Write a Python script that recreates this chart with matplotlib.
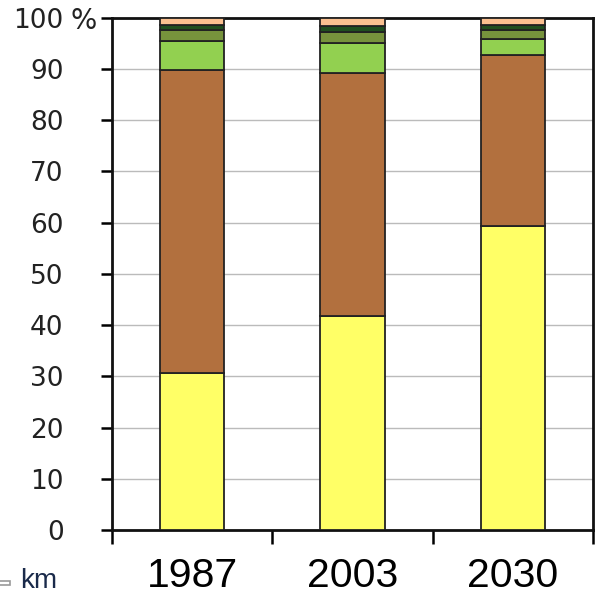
import matplotlib
matplotlib.use("Agg")
import matplotlib.pyplot as plt
import matplotlib.transforms as mtransforms
import numpy as np
from matplotlib.patches import Rectangle

# Share of each category per year (percent, stacked bottom to top)
years = ["1987", "2003", "2030"]
yellow = [30.6, 41.8, 59.4]
brown = [59.2, 47.5, 33.4]
light_green = [5.6, 5.8, 3.0]
olive = [2.3, 2.2, 1.9]
dark_green = [0.9, 1.0, 0.9]
peach = [1.4, 1.7, 1.4]

series = [yellow, brown, light_green, olive, dark_green, peach]
colors = ["#FFFF66", "#B2703E", "#92D050", "#77933C", "#1F4F1F", "#FAC090"]

y_ticks = list(range(0, 101, 10))
y_labels = [str(t) for t in y_ticks]

fig = plt.figure(figsize=(6.0, 5.93), dpi=100)
ax = fig.add_axes([0.187, 0.106, 0.801, 0.864])

x = np.arange(len(years))
bottom = np.zeros(len(years))
for vals, col in zip(series, colors):
    ax.bar(x, vals, width=0.4, bottom=bottom, color=col,
           edgecolor="#222222", linewidth=1.3, zorder=3)
    bottom += np.array(vals)

ax.set_xlim(-0.5, len(years) - 0.5)
ax.set_ylim(0, 100)

ax.set_yticks(y_ticks)
ax.set_yticklabels(y_labels, fontsize=19, color="#222222", family="DejaVu Sans")
ax.yaxis.grid(True, color="#BBBBBB", linewidth=1.0, zorder=0)
ax.tick_params(axis="y", direction="out", length=8, width=1.8, pad=27)

# percent sign hanging off the top label
trans = mtransforms.blended_transform_factory(ax.transAxes, ax.transData)
ax.text(-0.086, 100, "%", transform=trans, fontsize=20, color="#222222",
        family="DejaVu Sans", ha="left", va="center_baseline")

# category labels centred under bars, tick marks on category boundaries
ax.set_xticks(np.arange(len(years) + 1) - 0.5)
ax.set_xticklabels([])
ax.set_xticks(x, minor=True)
ax.set_xticklabels(years, minor=True, fontsize=29.5, family="Liberation Sans")
ax.tick_params(axis="x", which="major", direction="out", length=10, width=1.8)
ax.tick_params(axis="x", which="minor", length=0, pad=19)

for side in ["left", "right", "top", "bottom"]:
    ax.spines[side].set_linewidth(2.0)
    ax.spines[side].set_color("#111111")

# stray legend fragment at the lower left
fig.patches.append(Rectangle((-0.002, 0.0135), 0.018, 0.007, transform=fig.transFigure,
                             facecolor="white", edgecolor="#999999", linewidth=1.2))
fig.text(0.034, 0.009, "km", fontsize=20, color="#1A2A4A", family="Liberation Sans",
         va="baseline")

fig.savefig("out.png", dpi=100)
